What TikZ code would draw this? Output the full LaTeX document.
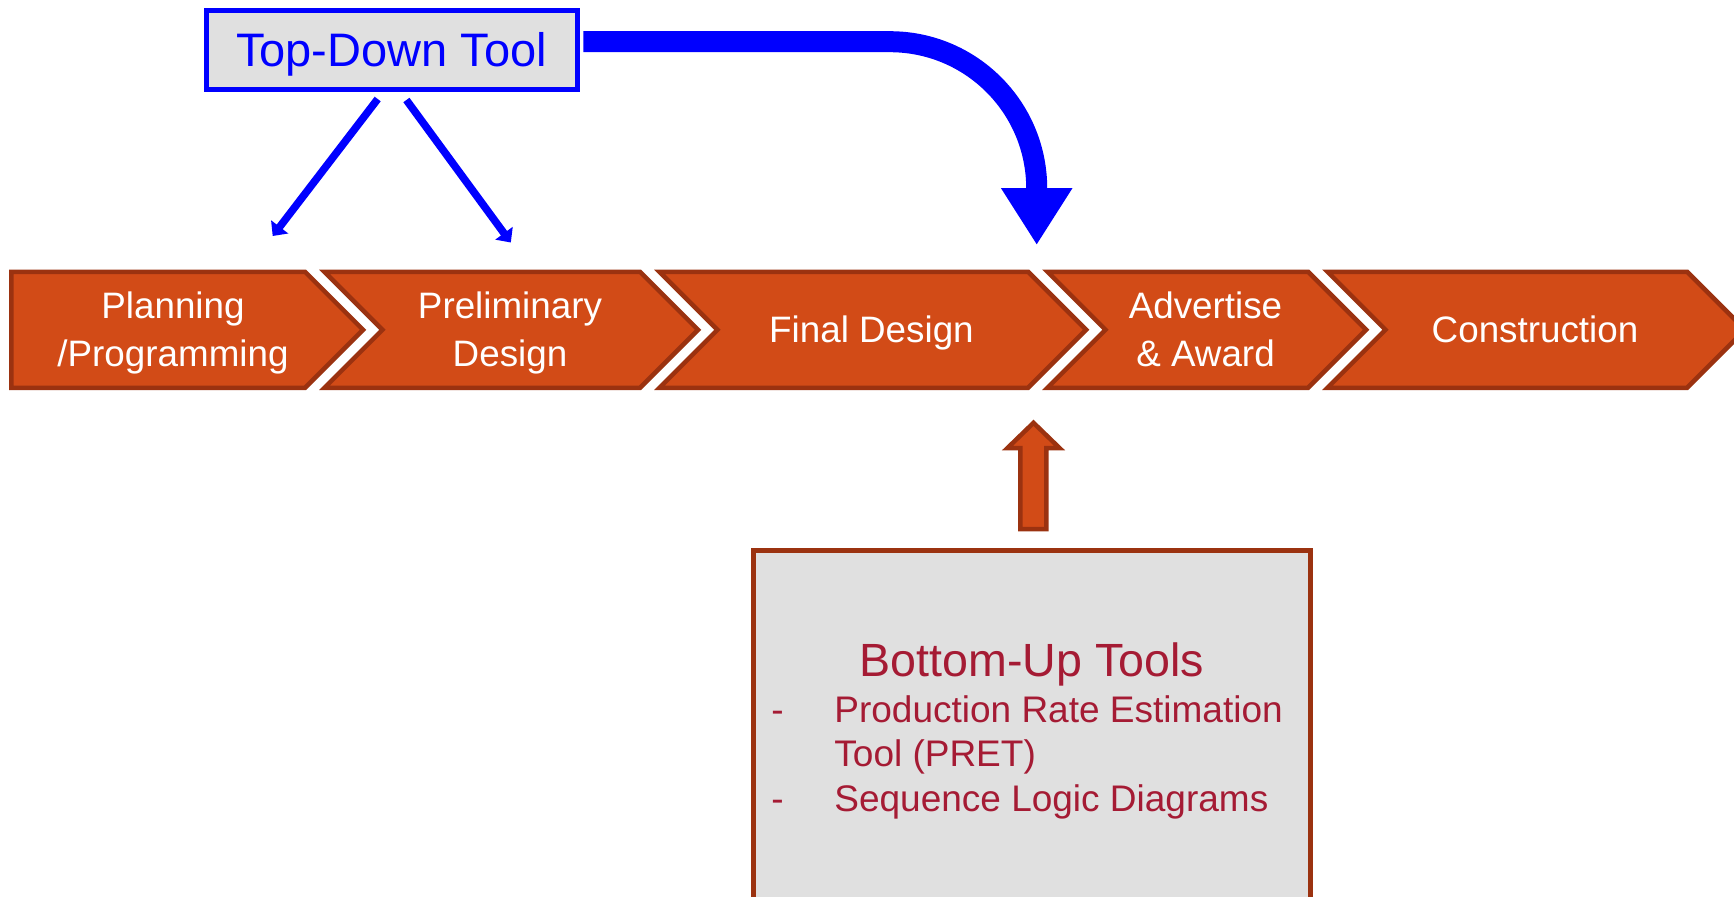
\documentclass[tikz,border=0pt]{standalone}
\usepackage{fontspec}
\setmainfont{Liberation Sans}
\usetikzlibrary{arrows.meta}
\definecolor{chevfill}{RGB}{210,75,23}
\definecolor{chevline}{RGB}{155,50,16}
\definecolor{boxgray}{RGB}{224,224,224}
\definecolor{tdblue}{RGB}{0,0,255}
\definecolor{burred}{RGB}{165,27,52}
\newcommand\mychev[2]{\path[chevshape] ({#1+5.43},271.75) -- ({#2-0.93},271.75) -- ({#2+57.07},329.75) -- ({#2-0.93},387.75) -- ({#1+5.43},387.75) -- ({#1+63.43},329.75) -- cycle;}
\newcommand\mychevfirst[2]{\path[chevshape] ({#1+2.25},271.75) -- ({#2-0.93},271.75) -- ({#2+57.07},329.75) -- ({#2-0.93},387.75) -- ({#1+2.25},387.75) -- cycle;}
\begin{document}
\begin{tikzpicture}[x=0.5pt,y=-0.5pt,
  chevshape/.style={fill=chevfill,draw=chevline,line width=2.25pt,line join=miter},
  chevtext/.style={text=white,font=\fontsize{18.4pt}{24pt}\selectfont,align=center,inner sep=0pt},
  onetext/.style={chevtext,text height=13.2pt,text depth=0pt},
  bluearrow/.style={draw=tdblue,line width=3.8pt,-{Triangle[width=10.5pt,length=5.75pt]}},
  bigarrow/.style={draw=tdblue,line width=10.5pt,line cap=butt,-{Triangle[width=33.7pt,length=28.5pt]}},
  tdbox/.style={draw=tdblue,fill=boxgray,line width=2.5pt,minimum width=185.5pt,minimum height=39.5pt,inner sep=0pt,text=tdblue,font=\fontsize{23.5pt}{28pt}\selectfont,text height=16.8pt,text depth=0pt},
  bubox/.style={draw=chevline,fill=boxgray,line width=2.25pt,minimum width=278.4pt,minimum height=250pt,inner sep=0pt,outer sep=0pt},
  butitle/.style={text=burred,font=\fontsize{23.3pt}{28pt}\selectfont,inner sep=0pt},
  buitem/.style={text=burred,font=\fontsize{18.5pt}{22pt}\selectfont,inner sep=0pt}
]
\useasboundingbox (0,0) rectangle (1734,896);
\clip (0,0) rectangle (1734,896);
% chevrons
\mychevfirst{9}{306}
\mychev{319}{641}
\mychev{654}{1029}
\mychev{1042}{1309}
\mychev{1322}{1688}
\node[chevtext] (c1) at (173,333.2) {Planning\\/Programming};
\node[chevtext] (c2) at (510,333.2) {Preliminary\\Design};
\node[onetext] (c3) at (871.5,329.75) {Final Design};
\node[chevtext] (c4) at (1205.5,329.5) {Advertise\\\& Award};
\node[onetext] (c5) at (1535,329.75) {Construction};
% top-down tool
\node[tdbox] (td) at (391.5,50) {Top-Down Tool};
\coordinate (a1s) at (377.7,99);
\coordinate (a1e) at (272.7,236);
\coordinate (a2s) at (406.4,100);
\coordinate (a2e) at (510.8,242.5);
\draw[bluearrow] (a1s) -- (a1e);
\draw[bluearrow] (a2s) -- (a2e);
\coordinate (bigstart) at (583.3,41.7);
\coordinate (bigend) at (1036.7,245);
\draw[bigarrow] (bigstart) -- (890,41.7) arc[start angle=-90,end angle=0,radius=146.7] -- (bigend);
% bottom-up
\path[chevshape] (1020.3,529) -- (1020.3,448) -- (1007.5,448) -- (1033.5,422.8) -- (1059.5,448) -- (1046.3,448) -- (1046.3,529) -- cycle;
\node[bubox,anchor=north] (bu) at (1032.1,550.5) {};
\node[butitle,anchor=base] (bt) at (1032,676) {Bottom-Up Tools};
\node[buitem,anchor=base west] (b1) at (834,722.7) {Production Rate Estimation};
\node[buitem,anchor=base west] (b2) at (834,766.7) {Tool (PRET)};
\node[buitem,anchor=base west] (b3) at (834,811.7) {Sequence Logic Diagrams};
\node[buitem,anchor=base west] (d1) at (771,722.7) {-};
\node[buitem,anchor=base west] (d2) at (771,811.7) {-};
\end{tikzpicture}
\end{document}
